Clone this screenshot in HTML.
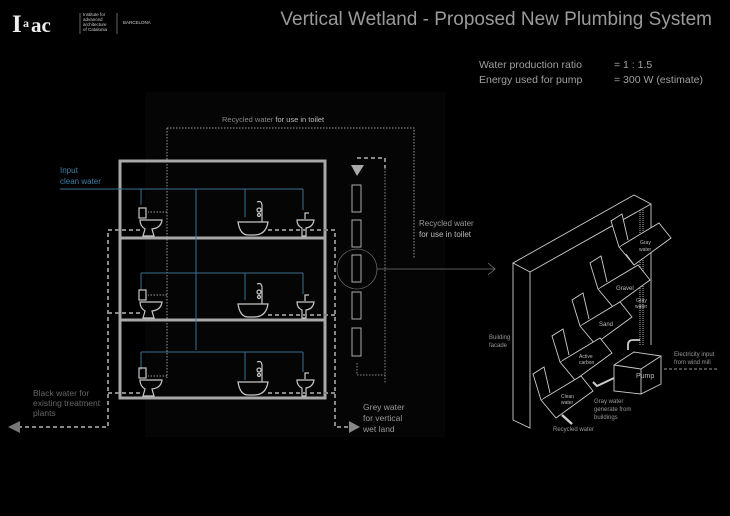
<!DOCTYPE html>
<html><head><meta charset="utf-8"><style>
html,body{margin:0;padding:0;background:#000;}
svg{display:block;font-family:"Liberation Sans",sans-serif;}
</style></head><body>
<svg width="730" height="516" viewBox="0 0 730 516" xmlns="http://www.w3.org/2000/svg">
<rect width="730" height="516" fill="#000"/>
<rect x="145" y="92" width="300" height="345" fill="#050505"/>
<!-- logo -->
<text x="12" y="32" fill="#eee" font-family="Liberation Serif,serif" font-weight="bold" font-size="25">I</text>
<text x="23" y="27" fill="#eee" font-family="Liberation Serif,serif" font-weight="bold" font-size="12">a</text>
<text x="31" y="32" fill="#eee" font-family="Liberation Serif,serif" font-weight="bold" font-size="21">ac</text>
<line x1="80" y1="13" x2="80" y2="34" stroke="#aaa" stroke-width="0.6"/>
<text fill="#ccc" font-size="4.5"><tspan x="83" y="16">Institute for</tspan><tspan x="83" y="21">advanced</tspan><tspan x="83" y="26">architecture</tspan><tspan x="83" y="31">of Catalonia</tspan></text>
<line x1="117" y1="13" x2="117" y2="34" stroke="#aaa" stroke-width="0.6"/>
<text x="123" y="24" fill="#ccc" font-size="4.5">BARCELONA</text>
<text x="712" y="25" fill="#9a9a9a" font-size="19" text-anchor="end">Vertical Wetland - Proposed New Plumbing System</text>
<text fill="#a0a0a0" font-size="10.5"><tspan x="479" y="68">Water production ratio</tspan><tspan x="479" y="83">Energy used for pump</tspan><tspan x="614" y="68">=   1 : 1.5</tspan><tspan x="614" y="83">=   300 W (estimate)</tspan></text>

<!-- recycled dotted loop -->
<text x="222" y="122" fill="#888" font-size="7.5">Recycled water  <tspan fill="#bbb">for use in toilet</tspan></text>
<path d="M167 128 H414 V258" fill="none" stroke="#999" stroke-width="1" stroke-dasharray="1.5 1.5"/>
<path d="M167 128 V378" fill="none" stroke="#999" stroke-width="1" stroke-dasharray="1.5 1.5"/>
<path d="M167 212 H148 M167 295 H148 M167 376 H148" stroke="#999" stroke-width="1" stroke-dasharray="1.5 1.5"/>
<text fill="#999" font-size="8"><tspan x="419" y="226">Recycled water</tspan><tspan x="419" y="237" fill="#bbb">for use in toilet</tspan></text>

<!-- building -->
<rect x="120" y="161" width="205" height="237" fill="none" stroke="#a8a8a8" stroke-width="3"/>
<line x1="120" y1="238" x2="325" y2="238" stroke="#a8a8a8" stroke-width="3"/>
<line x1="120" y1="320" x2="325" y2="320" stroke="#a8a8a8" stroke-width="3"/>

<!-- blue supply -->
<text fill="#3f7fa8" font-size="8"><tspan x="60" y="173">Input</tspan><tspan x="60" y="184">clean water</tspan></text>
<g stroke="#3a6f8f" stroke-width="1" fill="none">
<path d="M60 189 H303 M141 189 V205 M245 189 V217 M303 189 V210"/>
<path d="M196 189 V350"/>
<path d="M141 273 H303 M141 273 V290 M245 273 V300 M303 273 V294"/>
<path d="M141 352 H303 M141 352 V370 M245 352 V380 M303 352 V372"/>
</g>

<!-- fixtures -->
<g fill="none" stroke="#c8c8c8" stroke-width="1.2">
<g>
<rect x="139" y="208" width="7" height="10"/><path d="M140 220 H162 Q161 228 152 229 L154 236 H143 L145 229 Q140 226 140 220Z"/>
<path d="M238 222 H268 Q266 235 254 235 H248 Q240 235 238 222Z"/><path d="M262 222 V206 Q262 200 257 202"/><circle cx="259" cy="210" r="2"/><circle cx="259" cy="215" r="1.5"/>
<path d="M297 220 H314 Q313 227 306 228 V236 H302 V228 Q297 226 297 220Z"/><path d="M305 219 V213 H309"/>
</g>
<g transform="translate(0,82)">
<rect x="139" y="208" width="7" height="10"/><path d="M140 220 H162 Q161 228 152 229 L154 236 H143 L145 229 Q140 226 140 220Z"/>
<path d="M238 222 H268 Q266 235 254 235 H248 Q240 235 238 222Z"/><path d="M262 222 V206 Q262 200 257 202"/><circle cx="259" cy="210" r="2"/><circle cx="259" cy="215" r="1.5"/>
<path d="M297 220 H314 Q313 227 306 228 V236 H302 V228 Q297 226 297 220Z"/><path d="M305 219 V213 H309"/>
</g>
<g transform="translate(0,160)">
<rect x="139" y="208" width="7" height="10"/><path d="M140 220 H162 Q161 228 152 229 L154 236 H143 L145 229 Q140 226 140 220Z"/>
<path d="M238 222 H268 Q266 235 254 235 H248 Q240 235 238 222Z"/><path d="M262 222 V206 Q262 200 257 202"/><circle cx="259" cy="210" r="2"/><circle cx="259" cy="215" r="1.5"/>
<path d="M297 220 H314 Q313 227 306 228 V236 H302 V228 Q297 226 297 220Z"/><path d="M305 219 V213 H309"/>
</g>
</g>

<!-- black water dashed -->
<g stroke="#888" stroke-width="2" stroke-dasharray="4 3" fill="none">
<path d="M140 230 H108 V427 H20"/><path d="M140 313 H108 M140 393 H108"/>
<path d="M268 230 H335 V427 H352"/><path d="M268 315 H335 M268 393 H335"/>
<path d="M357 158 H385 V168"/>
</g>
<path d="M8 427 L20 421 V433Z" fill="#777"/>
<path d="M360 427 L349 421 V433Z" fill="#888"/>
<text fill="#666" font-size="8.5"><tspan x="33" y="396">Black water for</tspan><tspan x="33" y="406">existing treatment</tspan><tspan x="33" y="416">plants</tspan></text>
<text fill="#999" font-size="8.5"><tspan x="363" y="410">Grey water</tspan><tspan x="363" y="421">for vertical</tspan><tspan x="363" y="432">wet land</tspan></text>

<!-- wetland column -->
<path d="M351 165 H364 L357 176Z" fill="#aaa"/>
<g fill="none" stroke="#aaa" stroke-width="1">
<rect x="352" y="185" width="9" height="27"/><rect x="352" y="220" width="9" height="27"/><rect x="352" y="255" width="9" height="27"/><rect x="352" y="292" width="9" height="27"/><rect x="352" y="328" width="9" height="28"/>
</g>
<path d="M385 168 V383 M357 363 V375 H385" fill="none" stroke="#888" stroke-width="1" stroke-dasharray="1.5 1.5"/>
<circle cx="357" cy="269" r="20" fill="none" stroke="#666" stroke-width="0.8"/>
<path d="M377 269 H495 M488 263 L495 269 L488 275" fill="none" stroke="#777" stroke-width="0.8"/>

<!-- isometric facade -->
<g fill="none" stroke="#ccc" stroke-width="0.9">
<path d="M513 263 L634 195 L651 204 L530 272 Z"/>
<path d="M513 263 V420 L530 428 V272"/>
<path d="M651 204 V345"/>
<path d="M640 210 V345 M643 210 V345" stroke-dasharray="1 1"/>
</g>
<g fill="#000" stroke="#ccc" stroke-width="0.9">
<!-- planter template per (cx,cy): tray + flap -->
<g transform="translate(21,-42)">
<path d="M598 289 L638 265 L650 280 L613 307 Z"/><path d="M598 289 L590 263 L601 256 L607 282"/><path d="M613 307 L605 296"/>
</g>
<path d="M598 289 L638 265 L650 280 L613 307 Z"/><path d="M598 289 L590 263 L601 256 L607 282"/>
<g transform="translate(-18,37)">
<path d="M598 289 L638 265 L650 280 L613 307 Z"/><path d="M598 289 L590 263 L601 256 L607 282"/>
</g>
<g transform="translate(-38,73)">
<path d="M598 289 L638 265 L650 280 L613 307 Z"/><path d="M598 289 L590 263 L601 256 L607 282"/>
</g>
<g transform="translate(-57,111)">
<path d="M598 289 L638 265 L650 280 L613 307 Z"/><path d="M598 289 L590 263 L601 256 L607 282"/>
</g>
<path d="M614 365 L634 352 L661 356 V384 L641 394 L614 391 Z"/>
<path d="M614 365 L641 369 V394 M641 369 L661 356"/>
<path d="M628 350 V345 Q628 340 633 340 H640" stroke-width="1.8"/>
<path d="M614 378 L597 386 L593 382" stroke-width="2"/>
<path d="M562 415 L572 424" stroke-width="2.5"/>
</g>
<path d="M664 369 H718" stroke="#999" stroke-dasharray="3 2" stroke-width="1"/>
<g fill="#bbb" font-size="5">
<text x="640" y="244">Gray</text><text x="639" y="251">water</text>
<text x="616" y="290" font-size="6">Gravel</text>
<text x="636" y="302">Gray</text><text x="635" y="308">water</text>
<text x="599" y="326" font-size="6">Sand</text>
<text x="579" y="358">Active</text><text x="579" y="364">carbon</text>
<text x="561" y="398">Clean</text><text x="561" y="404">water</text>
<text x="636" y="378" font-size="7">Pump</text>
</g>
<g fill="#999" font-size="6">
<text x="489" y="339">Building</text><text x="489" y="347">facade</text>
<text x="674" y="356">Electricity input</text><text x="674" y="364">from wind mill</text>
<text x="594" y="403">Gray water</text><text x="594" y="411">generate from</text><text x="594" y="419">buildings</text>
<text x="553" y="431">Recycled water</text>
</g>
</svg>
</body></html>
